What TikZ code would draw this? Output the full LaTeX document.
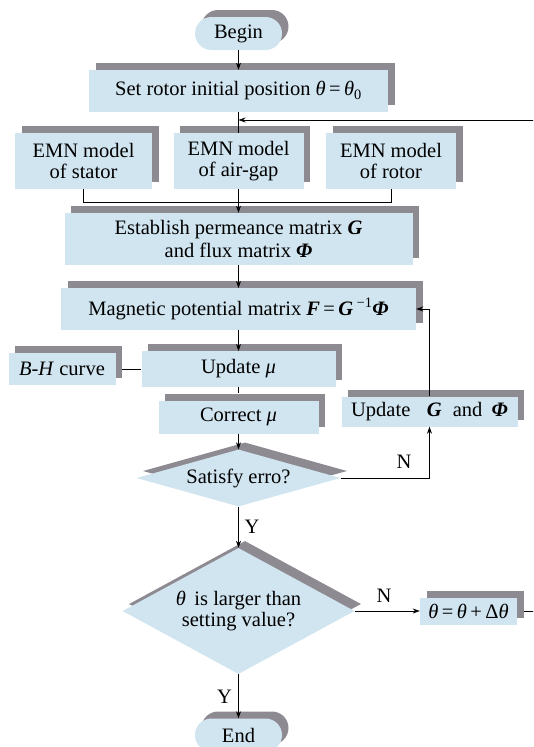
\documentclass[tikz,border=0pt]{standalone}
\usepackage{fontspec}
\setmainfont{Liberation Serif}
\usetikzlibrary{shapes.geometric,shapes.misc,shadows,arrows.meta}
\definecolor{boxblue}{HTML}{D1E5F0}
\definecolor{shgray}{HTML}{8E8A91}
\tikzset{
  sh/.style={drop shadow={shadow xshift=6.5pt,shadow yshift=7pt,opacity=1,fill=shgray}},
  box/.style={rectangle,fill=boxblue,sh,inner sep=0pt,align=center},
  term/.style={rounded rectangle,fill=boxblue,sh,inner sep=0pt,minimum width=87pt,minimum height=33pt},
  dec/.style={diamond,fill=boxblue,sh,inner sep=0pt,align=center},
  conn/.style={draw,line width=0.8pt},
  arr/.style={conn,-{Stealth[length=7pt,width=5pt]}},
  lab/.style={inner sep=0pt}
}
\begin{document}
\begin{tikzpicture}[x=1pt,y=-1pt,every node/.style={font=\fontsize{20.5}{21}\selectfont}]
\useasboundingbox (0,0) rectangle (533,747);
\clip (0,0) rectangle (533,747);
\node[term] (begin) at (238.5,33.5) {Begin};
\node[box,minimum width=299pt,minimum height=42pt] (setpos) at (238.5,91)
  {Set rotor initial position \textit{θ}\,=\,\textit{θ}\textsubscript{0}};
\node[box,minimum width=137pt,minimum height=56pt] (stator) at (83.5,161) {EMN model\\of stator};
\node[box,minimum width=130pt,minimum height=56pt] (airgap) at (238.5,161) {EMN model\\of air-gap};
\node[box,minimum width=130pt,minimum height=56pt] (rotor) at (391,161) {EMN model\\of rotor};
\node[box,minimum width=348pt,minimum height=52pt] (establish) at (238.5,239)
  {Establish permeance matrix \textbf{\textit{G}}\\[2pt] and flux matrix \textbf{\textit{Φ}}};
\node[box,minimum width=355pt,minimum height=41.5pt] (magnetic) at (238.5,309)
  {Magnetic potential matrix \textbf{\textit{F}}\,=\,\textbf{\textit{G}}\,\textsuperscript{−1}\textbf{\textit{Φ}}};
\node[box,minimum width=194pt,minimum height=35.5pt] (updmu) at (238.5,369) {Update \textit{μ}};
\node[box,minimum width=107pt,minimum height=32.5pt] (bh) at (62,369) {\textit{B-H} curve};
\node[box,minimum width=176pt,minimum height=30pt] (updG) at (429.5,411.5)
  {Update\hspace{0.8em}\textbf{\textit{G}}\hspace{0.55em}and\hspace{0.45em}\textbf{\textit{Φ}}};
\node[box,minimum width=160pt,minimum height=33pt] (correct) at (238.5,417) {Correct \textit{μ}};
\node[dec,aspect=3.58,minimum width=204pt,minimum height=57pt] (dia1) at (238.5,478) {Satisfy erro?};
\node[dec,aspect=1.84,minimum width=232pt,minimum height=126pt] (dia2) at (238.5,611)
  {\textit{θ}\, is larger than\\setting value?};
\node[box,minimum width=97pt,minimum height=27pt] (theta) at (468.5,611)
  {\textit{θ}\,=\,\textit{θ}\,+\,Δ\textit{θ}};
\node[term] (end) at (238.5,735) {End};
% coordinates
\coordinate (jn) at (238.5,120);
\coordinate (bus) at (238.5,202);
\coordinate (offr) at (545,611);
\coordinate (offt) at (545,120);
% connectors
\draw[arr] (begin.south) -- (setpos.north);
\draw[conn] (setpos.south) -- (airgap.north);
\draw[conn] (stator.south) -- (stator.south |- bus) -| (rotor.south);
\draw[conn] (airgap.south) -- (bus);
\draw[arr] (bus) -- (establish.north);
\draw[arr] (establish.south) -- (magnetic.north);
\draw[arr] (magnetic.south) -- (updmu.north);
\draw[conn] ([xshift=6.5pt]bh.east) -- (updmu.west);
\draw[conn] (updmu.south) -- ([yshift=7pt]correct.north);
\draw[arr] (correct.south) -- (dia1.north);
\draw[arr] (dia1.south) -- (dia2.north);
\draw[arr] (dia1.east) -| (updG.south);
\draw[arr] (updG.north) |- (magnetic.east);
\draw[arr] (dia2.east) -- (theta.west);
\draw[arr] (dia2.south) -- (end.north);
\draw[arr] ([xshift=6.5pt]theta.east) -- (offr) -- (offt) -- (jn);
% labels
\node[lab] (n1) at (404,462) {N};
\node[lab] (y1) at (252,527) {Y};
\node[lab] (n2) at (384,596) {N};
\node[lab] (y2) at (224.5,697) {Y};
\end{tikzpicture}
\end{document}
